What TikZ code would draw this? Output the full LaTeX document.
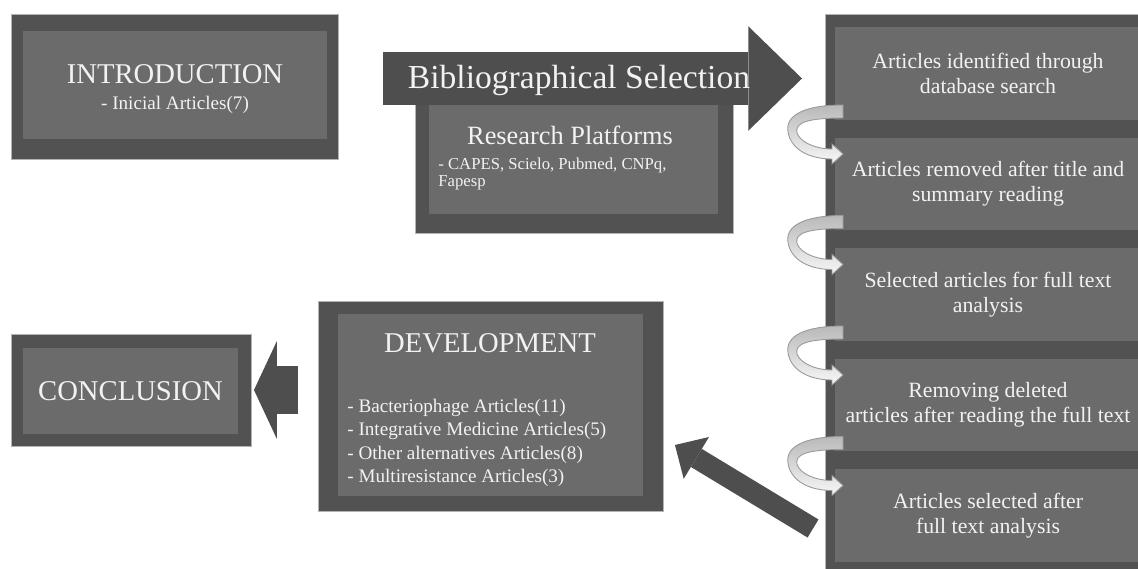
\documentclass[tikz,border=0pt]{standalone}
\usepackage{fontspec}
\setmainfont{Liberation Serif}
\usetikzlibrary{arrows.meta, calc}
\definecolor{boxdark}{HTML}{525252}
\definecolor{boxmid}{HTML}{6B6B6B}
\definecolor{arrowdark}{HTML}{4E4E4E}
\definecolor{txtlight}{HTML}{F2F2F2}
\definecolor{edgelight}{HTML}{B4B4B4}
\newcommand{\headsize}{\fontsize{16.3}{19}\selectfont}
\newcommand{\bibsize}{\fontsize{19.1}{22}\selectfont}
\newcommand{\platsize}{\fontsize{15}{18}\selectfont}
\newcommand{\rowsize}{\fontsize{12.4}{14.2}\selectfont}
\newcommand{\listsize}{\fontsize{10.9}{13.3}\selectfont}
\newcommand{\platlistsize}{\fontsize{9.5}{10.2}\selectfont}
\tikzset{
	outerbox/.style={fill=boxdark, draw=edgelight, line width=0.4pt, inner sep=0pt, outer sep=0pt},
	innerbox/.style={fill=boxmid, inner sep=0pt, outer sep=0pt, text=txtlight},
	lighttext/.style={text=txtlight, inner sep=0pt},
	rowbox/.style={innerbox, minimum width=6.12cm, minimum height=1.86cm, align=center, font=\rowsize},
	curl/.style={draw=gray!80, line width=0.5pt, top color=gray!55, bottom color=gray!6},
	blockarrow/.style={draw=arrowdark}
}

\begin{document}
\begin{tikzpicture}[x=0.02cm, y=-0.02cm]
	\clip (0,0) rectangle (1138,568);
	\fill[white] (0,0) rectangle (1138,568);
	% introduction
	\node[outerbox, minimum width=6.54cm, minimum height=2.9cm] (introout) at (174.5,86.5) {};
	\node[innerbox, minimum width=6.08cm, minimum height=2.16cm] (intro) at (175,85) {};
	\node[lighttext, font=\headsize] (introtitle) at (175,74) {INTRODUCTION};
	\node[lighttext, font=\listsize] (introsub) at (175,105) {- Inicial Articles(7)};
	% research platforms and selection arrow
	\node[outerbox, minimum width=6.36cm, minimum height=2.76cm] (platout) at (574,164) {};
	\node[innerbox, minimum width=5.78cm, minimum height=2.18cm] (plat) at (573.5,159.5) {};
	\node[lighttext, font=\platsize] (plattitle) at (570,135) {Research Platforms};
	\node[lighttext, font=\platlistsize, align=left, anchor=west] (platlist) at (438,174) {- CAPES, Scielo, Pubmed, CNPq,\\Fapesp};
	\coordinate (bibstart) at (383,78.5);
	\coordinate (bibtip) at (802,78.5);
	\draw[blockarrow, line width=30pt, -{Triangle[length=30.6pt, width=59.5pt, line width=0pt]}] (bibstart) -- (bibtip);
	\node[lighttext, font=\bibsize] (bibsel) at (579,80) {Bibliographical Selection};
	% selection steps
	\node[outerbox, minimum width=6.5cm, minimum height=11.32cm] (panel) at (987.5,297) {};
	\foreach \i/\txt in {1/{Articles identified through\\database search},
		2/{Articles removed after title and\\summary reading},
		3/{Selected articles for full text\\analysis},
		4/{Removing deleted\\articles after reading the full text},
		5/{Articles selected after\\full text analysis}}
	\node[rowbox] (r\i) at (988,{73.5+110.5*(\i-1)}) {\txt};
	\foreach \i in {1,...,4}
	\path[curl, shift={(r\i.south west)}] (8,-15) .. controls (-30,-15) and (-50,-5) .. (-47,12)
		.. controls (-44,30) and (-25,39) .. (-3,39) -- (-3,44) -- (8,34) -- (-3,24) -- (-3,29)
		.. controls (-20,29) and (-35,22) .. (-38,13) .. controls (-41,2) and (-25,-2) .. (8,-2) -- cycle;
	% development and conclusion
	\node[outerbox, minimum width=6.9cm, minimum height=4.2cm] (devout) at (490.5,406) {};
	\node[innerbox, minimum width=6.1cm, minimum height=3.64cm] (dev) at (490.5,405) {};
	\node[lighttext, font=\headsize] (devtitle) at (490,343) {DEVELOPMENT};
	\node[lighttext, font=\listsize, align=left, anchor=west] (devlist) at (347,443) {- Bacteriophage Articles(11)\\- Integrative Medicine Articles(5)\\- Other alternatives Articles(8)\\- Multiresistance Articles(3)};
	\node[outerbox, minimum width=4.8cm, minimum height=2.24cm] (conclout) at (131,390) {};
	\node[innerbox, minimum width=4.3cm, minimum height=1.72cm, font=\headsize] (concl) at (130.5,391) {CONCLUSION};
	\coordinate (devtail) at ($(devout.west |- conclout.east)+(-20,0)$);
	\draw[blockarrow, line width=27.2pt, -{Triangle[length=13pt, width=55.6pt, line width=0pt]}] (devtail) -- ($(conclout.east)+(3,0)$);
	\coordinate (steptail) at ($(r5.west)+(-22,13)$);
	\coordinate (devtip) at ($(devout.east)+(12,39)$);
	\draw[blockarrow, line width=12pt, -{Triangle[length=14.2pt, width=27.8pt, line width=0pt]}] (steptail) -- (devtip);
\end{tikzpicture}
\end{document}
